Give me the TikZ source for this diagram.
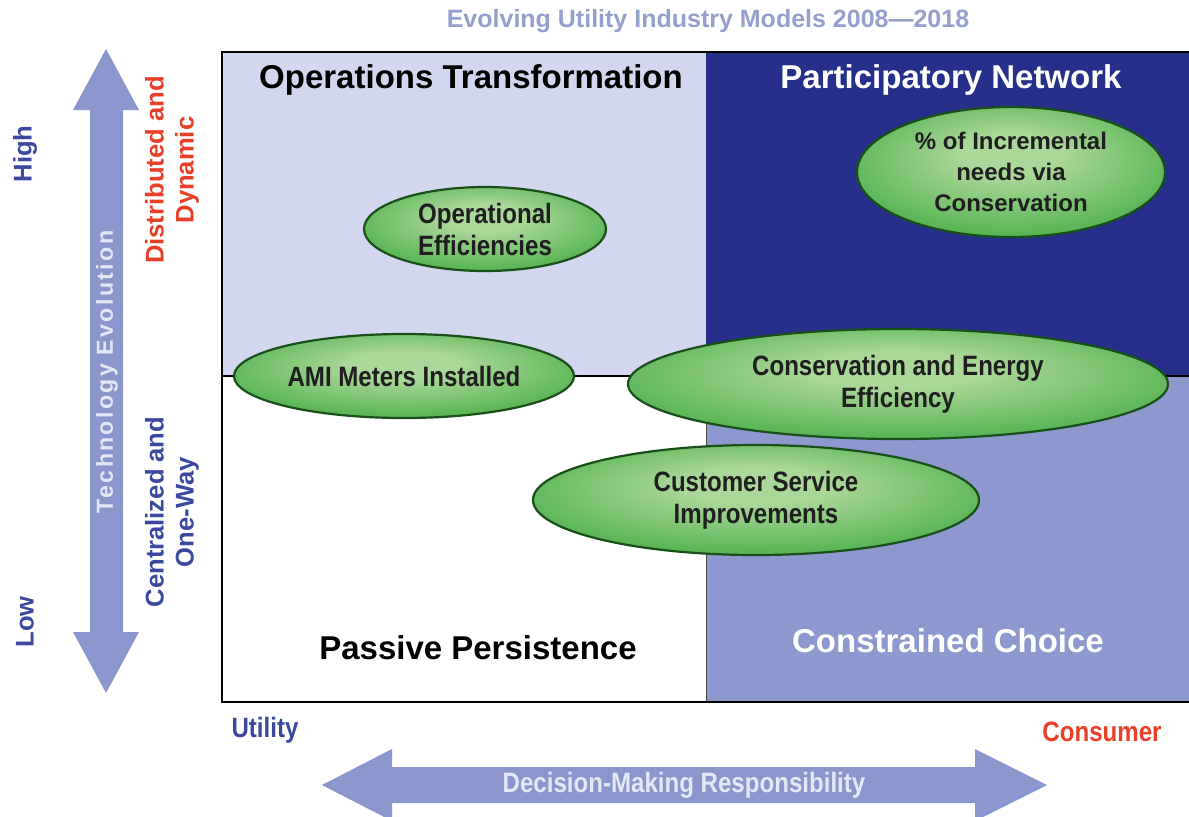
\documentclass[tikz,border=0pt]{standalone}
\usepackage{fontspec}
\setmainfont{Liberation Sans}
\newfontfamily\narrowfont[FakeStretch=0.86]{Liberation Sans}
\newfontfamily\spacedfont[LetterSpace=10]{Liberation Sans}
\usetikzlibrary{shapes.geometric}
\definecolor{lav}{RGB}{210,214,238}
\definecolor{navy}{RGB}{38,48,138}
\definecolor{peri}{RGB}{140,152,206}
\definecolor{arrowc}{RGB}{138,150,204}
\definecolor{titlec}{RGB}{150,160,205}
\definecolor{blueL}{RGB}{60,72,160}
\definecolor{redL}{RGB}{232,64,40}
\definecolor{gIn}{RGB}{170,216,152}
\definecolor{gOut}{RGB}{55,165,56}
\definecolor{gEdge}{RGB}{25,80,25}
\definecolor{txtlight}{RGB}{228,231,246}
\pgfdeclareradialshading{bubbleshade}{\pgfpoint{0bp}{8bp}}{color(0bp)=(gIn); color(8bp)=(gIn); color(36bp)=(gOut); color(50bp)=(gOut)}
\begin{document}
\begin{tikzpicture}[x=0.5pt,y=-0.5pt,
  bubble/.style={ellipse, draw=gEdge, line width=1.1pt, shading=bubbleshade, inner sep=0pt, align=center,
    font=\narrowfont\bfseries\fontsize{14}{16}\selectfont, text=black!88},
  quad/.style={font=\bfseries\fontsize{16.5}{19}\selectfont},
  axislab/.style={font=\bfseries\fontsize{12.8}{15}\selectfont, align=center, rotate=90},
  narrowlab/.style={font=\narrowfont\bfseries\fontsize{14}{16}\selectfont}
]
\useasboundingbox (0,0) rectangle (1189,816);
\clip (0,0) rectangle (1189,816);
\fill[white] (0,0) rectangle (1189,816);

% quadrants
\fill[lav] (222,52) rectangle (706,376);
\fill[navy] (706,52) rectangle (1189,376);
\fill[white] (222,376) rectangle (706,702);
\fill[peri] (706,376) rectangle (1189,702);
\draw[line width=0.5pt, black!70] (706,376) -- (706,702);
\draw[line width=1pt] (1189,52) -- (222,52) -- (222,702) -- (1189,702);
\draw[line width=0.7pt] (222,376) -- (1189,376);

% title
\node[font=\bfseries\fontsize{12.5}{15}\selectfont, text=titlec] (title) at (708,21) {Evolving Utility Industry Models 2008—2018};

% quadrant labels
\node[quad] (ot) at (471,80) {Operations Transformation};
\node[quad,text=white] (pn) at (951,80) {Participatory Network};
\node[quad] (pp) at (478,648) {Passive Persistence};
\node[quad,text=white] (cc) at (948,641) {Constrained Choice};

% vertical arrow
\fill[arrowc] (106,49) -- (139,110) -- (123,110) -- (123,632) -- (139,632) -- (106,693)
  -- (73,632) -- (90,632) -- (90,110) -- (73,110) -- cycle;
\node[rotate=90, font=\spacedfont\bfseries\fontsize{11.6}{13}\selectfont, text=txtlight] (tech) at (107,372) {Technology Evolution};

% horizontal arrow
\fill[arrowc] (322,785) -- (392,749) -- (392,767) -- (975,767) -- (975,749) -- (1047,785)
  -- (975,821) -- (975,803) -- (392,803) -- (392,821) -- cycle;
\node[narrowlab, text=txtlight] (dec) at (684,785) {Decision-Making Responsibility};

% axis labels
\node[axislab, text=blueL] (high) at (25,154) {High};
\node[axislab, text=blueL] (low) at (25,622) {Low};
\node[axislab, text=redL] (dist) at (172,170) {Distributed and\\Dynamic};
\node[axislab, text=blueL] (cent) at (172,512) {Centralized and\\One-Way};
\node[narrowlab, text=blueL] (util) at (265,730) {Utility};
\node[narrowlab, text=redL] (cons) at (1102,732) {Consumer};

% bubbles
\node[bubble, minimum width=121pt, minimum height=42pt] (opeff) at (485,229) {Operational\\Efficiencies};
\node[bubble, minimum width=154pt, minimum height=65pt, font=\bfseries\fontsize{12}{15.5}\selectfont] (incr) at (1011,172) {\% of Incremental\\needs via\\Conservation};
\node[bubble, minimum width=170pt, minimum height=42pt] (ami) at (404,376) {AMI Meters Installed};
\node[bubble, minimum width=270pt, minimum height=55pt] (consee) at (898,384) {Conservation and Energy\\Efficiency};
\node[bubble, minimum width=223pt, minimum height=55pt] (cust) at (756,500) {Customer Service\\Improvements};
\end{tikzpicture}
\end{document}
